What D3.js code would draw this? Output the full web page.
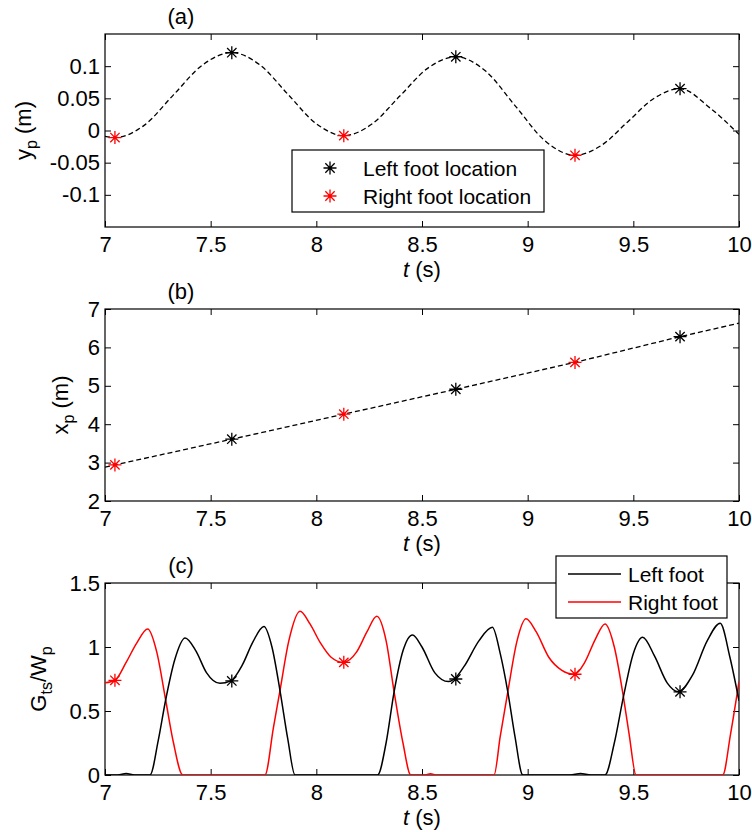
<!DOCTYPE html>
<html><head><meta charset="utf-8">
<script src="https://cdn.jsdelivr.net/npm/d3@7"></script>
<style>
body{margin:0;background:#fff}
svg{display:block}
text{font-family:"Liberation Sans",Arial,sans-serif;fill:#000}
</style>
</head><body>
<svg id="chart" width="752" height="832"></svg>
<script>
// ---------- DATA ----------
const timeTicks = [7, 7.5, 8, 8.5, 9, 9.5, 10];
const ypTicks = [-0.1, -0.05, 0, 0.05, 0.1];
const xpTicks = [2, 3, 4, 5, 6, 7];
const gTicks = [0, 0.5, 1, 1.5];

// (a) lateral position y_p(t) [t, m]
const ypCurve = [[7.0,-0.009],[7.047,-0.011],[7.185,0.008],[7.323,0.055],[7.462,0.102],[7.6,0.121],
  [7.733,0.102],[7.865,0.0565],[7.998,0.011],[8.13,-0.008],[8.263,0.010],[8.395,0.0535],[8.528,0.097],
  [8.66,0.1146],[8.801,0.0923],[8.942,0.038],[9.083,-0.0163],[9.224,-0.0385],[9.348,-0.0233],
  [9.473,0.0133],[9.597,0.0498],[9.721,0.065],[9.863,0.035],[10.0,-0.006]];
// (b) forward position x_p(t) [t, m]
const xpCurve = [[7.0,2.88],[7.047,2.94],[7.6,3.61],[8.13,4.26],[8.66,4.91],[9.224,5.61],[9.721,6.28],[10.0,6.63]];

// foot-location instants
const leftFootT = [7.6, 8.66, 9.721];
const rightFootT = [7.047, 8.13, 9.224];
const leftFootYp = [0.121, 0.1146, 0.065];
const rightFootYp = [-0.011, -0.008, -0.0385];
const leftFootXp = [3.61, 4.91, 6.28];
const rightFootXp = [2.94, 4.26, 5.61];
const leftFootG = [0.735, 0.75, 0.65];
const rightFootG = [0.74, 0.88, 0.787];

// (c) normalised ground force G_ts/W_p
const leftForce = [[7.0,0],[7.06,0],[7.1,0.012],[7.14,0],[7.213,0],[7.252,0.27],[7.287,0.586],[7.33,0.9],
  [7.379,1.07],[7.43,0.97],[7.48,0.8],[7.544,0.716],[7.595,0.735],[7.65,0.86],[7.70,1.04],[7.752,1.16],
  [7.79,1.0],[7.828,0.66],[7.865,0.28],[7.899,0],[8.29,0],[8.33,0.25],[8.368,0.65],[8.41,0.97],
  [8.455,1.094],[8.5,1.0],[8.56,0.8],[8.625,0.73],[8.653,0.75],[8.7,0.85],[8.77,1.05],[8.833,1.154],
  [8.87,0.95],[8.906,0.65],[8.94,0.3],[8.977,0],[9.2,0],[9.25,0.012],[9.3,0],[9.366,0],[9.41,0.25],
  [9.453,0.61],[9.5,0.95],[9.544,1.076],[9.6,0.93],[9.66,0.72],[9.713,0.65],[9.78,0.78],[9.85,1.05],
  [9.911,1.185],[9.957,0.92],[10.0,0.58]];
const rightForce = [[7.0,0.72],[7.047,0.74],[7.1,0.88],[7.15,1.03],[7.202,1.14],[7.245,0.96],[7.287,0.586],
  [7.323,0.26],[7.368,0],[7.757,0],[7.797,0.37],[7.828,0.66],[7.87,1.05],[7.923,1.28],[7.97,1.18],
  [8.02,1.03],[8.07,0.92],[8.128,0.88],[8.19,0.96],[8.24,1.12],[8.286,1.24],[8.33,1.05],[8.368,0.65],
  [8.41,0.25],[8.447,0],[8.51,0],[8.54,0.01],[8.57,0],[8.841,0],[8.87,0.3],[8.906,0.65],[8.95,1.05],
  [8.992,1.22],[9.04,1.12],[9.1,0.92],[9.16,0.82],[9.221,0.787],[9.27,0.88],[9.32,1.06],[9.366,1.18],
  [9.41,1.0],[9.453,0.61],[9.48,0.32],[9.513,0],[9.923,0],[9.96,0.32],[10.0,0.73]];

// ---------- DRAW ----------
const svg = d3.select("#chart");
const L = 105, R = 739;
const x = d3.scaleLinear().domain([7, 10]).range([L, R]);
const fmt = d => String(d);
const red = "#ff0000";

function asterisk(g, cx, cy, color) {
  const r = 6.5, d = r * 0.72;
  const p = d3.path();
  p.moveTo(cx - r, cy); p.lineTo(cx + r, cy);
  p.moveTo(cx, cy - r); p.lineTo(cx, cy + r);
  p.moveTo(cx - d, cy - d); p.lineTo(cx + d, cy + d);
  p.moveTo(cx - d, cy + d); p.lineTo(cx + d, cy - d);
  g.append("path").attr("d", p.toString()).attr("stroke", color).attr("stroke-width", 1.3).attr("fill", "none");
}

function panel(id, top, bottom, yDomain, yTicks, title, yLabelX, yLabelParts) {
  const y = d3.scaleLinear().domain(yDomain).range([bottom, top]);
  const g = svg.append("g");
  g.append("clipPath").attr("id", "clip" + id).append("rect")
    .attr("x", L).attr("y", top).attr("width", R - L).attr("height", bottom - top);
  const tk = 6;
  const ax = (axis, tr) => {
    const a = g.append("g").attr("transform", tr).call(axis);
    a.select(".domain").remove();
    a.selectAll("text").attr("font-size", 22).style("font-family", '"Liberation Sans",Arial,sans-serif');
    a.selectAll("line").attr("stroke", "#000");
    return a;
  };
  ax(d3.axisBottom(x).tickValues(timeTicks).tickFormat(fmt).tickSizeInner(-tk).tickSizeOuter(0).tickPadding(9), `translate(0,${bottom})`);
  ax(d3.axisTop(x).tickValues(timeTicks).tickFormat("").tickSizeInner(-tk).tickSizeOuter(0), `translate(0,${top})`);
  ax(d3.axisLeft(y).tickValues(yTicks).tickFormat(fmt).tickSizeInner(-tk).tickSizeOuter(0).tickPadding(5), `translate(${L},0)`);
  ax(d3.axisRight(y).tickValues(yTicks).tickFormat("").tickSizeInner(-tk).tickSizeOuter(0), `translate(${R},0)`);
  g.append("rect").attr("x", L).attr("y", top).attr("width", R - L).attr("height", bottom - top)
    .attr("fill", "none").attr("stroke", "#000").attr("stroke-width", 1.2);
  // title
  g.append("text").attr("x", 181).attr("y", top - 10).attr("text-anchor", "middle").attr("font-size", 22).text(title);
  // x label
  const xl = g.append("text").attr("x", (L + R) / 2).attr("y", bottom + 50).attr("text-anchor", "middle").attr("font-size", 22);
  xl.append("tspan").attr("font-style", "italic").text("t");
  xl.append("tspan").text(" (s)");
  // y label
  const yl = g.append("text").attr("transform", `translate(${yLabelX},${(top + bottom) / 2}) rotate(-90)`)
    .attr("text-anchor", "middle").attr("font-size", 22);
  let shifted = false;
  yLabelParts.forEach(([txt, sub]) => {
    const ts = yl.append("tspan").text(txt);
    if (sub && !shifted) { ts.attr("dy", 6).attr("font-size", 16); shifted = true; }
    else if (!sub && shifted) { ts.attr("dy", -6); shifted = false; }
  });
  return { g, y, clip: `url(#clip${id})` };
}

// (a)
const pa = panel("a", 34, 227, [-0.15, 0.15], ypTicks, "(a)", 31, [["y"], ["p", true], [" (m)"]]);
pa.g.append("path").datum(ypCurve).attr("clip-path", pa.clip)
  .attr("d", d3.line().x(d => x(d[0])).y(d => pa.y(d[1])).curve(d3.curveMonotoneX))
  .attr("fill", "none").attr("stroke", "#000").attr("stroke-width", 1.3).attr("stroke-dasharray", "5,3");
leftFootT.forEach((t, i) => asterisk(pa.g, x(t), pa.y(leftFootYp[i]), "#000"));
rightFootT.forEach((t, i) => asterisk(pa.g, x(t), pa.y(rightFootYp[i]), red));
// legend (a)
const lga = pa.g.append("g");
lga.append("rect").attr("x", 292).attr("y", 150).attr("width", 252).attr("height", 62)
  .attr("fill", "#fff").attr("stroke", "#000").attr("stroke-width", 1.2);
asterisk(lga, 330, 168, "#000");
asterisk(lga, 330, 196, red);
lga.append("text").attr("x", 363).attr("y", 175.5).attr("font-size", 21).text("Left foot location");
lga.append("text").attr("x", 363).attr("y", 203.5).attr("font-size", 21).text("Right foot location");

// (b)
const pb = panel("b", 309, 501, [2, 7], xpTicks, "(b)", 68, [["x"], ["p", true], [" (m)"]]);
pb.g.append("path").datum(xpCurve).attr("clip-path", pb.clip)
  .attr("d", d3.line().x(d => x(d[0])).y(d => pb.y(d[1])))
  .attr("fill", "none").attr("stroke", "#000").attr("stroke-width", 1.3).attr("stroke-dasharray", "5,3");
leftFootT.forEach((t, i) => asterisk(pb.g, x(t), pb.y(leftFootXp[i]), "#000"));
rightFootT.forEach((t, i) => asterisk(pb.g, x(t), pb.y(rightFootXp[i]), red));

// (c)
const pc = panel("c", 583, 775, [0, 1.5], gTicks, "(c)", 46, [["G"], ["ts", true], ["/W"], ["p", true]]);
const lineC = d3.line().x(d => x(d[0])).y(d => pc.y(d[1])).curve(d3.curveMonotoneX);
pc.g.append("path").datum(rightForce).attr("clip-path", pc.clip).attr("d", lineC)
  .attr("fill", "none").attr("stroke", red).attr("stroke-width", 1.5);
pc.g.append("path").datum(leftForce).attr("clip-path", pc.clip).attr("d", lineC)
  .attr("fill", "none").attr("stroke", "#000").attr("stroke-width", 1.5);
leftFootT.forEach((t, i) => asterisk(pc.g, x(t), pc.y(leftFootG[i]), "#000"));
rightFootT.forEach((t, i) => asterisk(pc.g, x(t), pc.y(rightFootG[i]), red));
// legend (c)
const lgc = pc.g.append("g");
lgc.append("rect").attr("x", 556).attr("y", 556).attr("width", 171).attr("height", 62)
  .attr("fill", "#fff").attr("stroke", "#000").attr("stroke-width", 1.2);
lgc.append("line").attr("x1", 568).attr("x2", 621).attr("y1", 574).attr("y2", 574).attr("stroke", "#000").attr("stroke-width", 1.5);
lgc.append("line").attr("x1", 568).attr("x2", 621).attr("y1", 602).attr("y2", 602).attr("stroke", red).attr("stroke-width", 1.5);
lgc.append("text").attr("x", 628).attr("y", 581.5).attr("font-size", 21).text("Left foot");
lgc.append("text").attr("x", 628).attr("y", 609.5).attr("font-size", 21).text("Right foot");
</script>
</body></html>
